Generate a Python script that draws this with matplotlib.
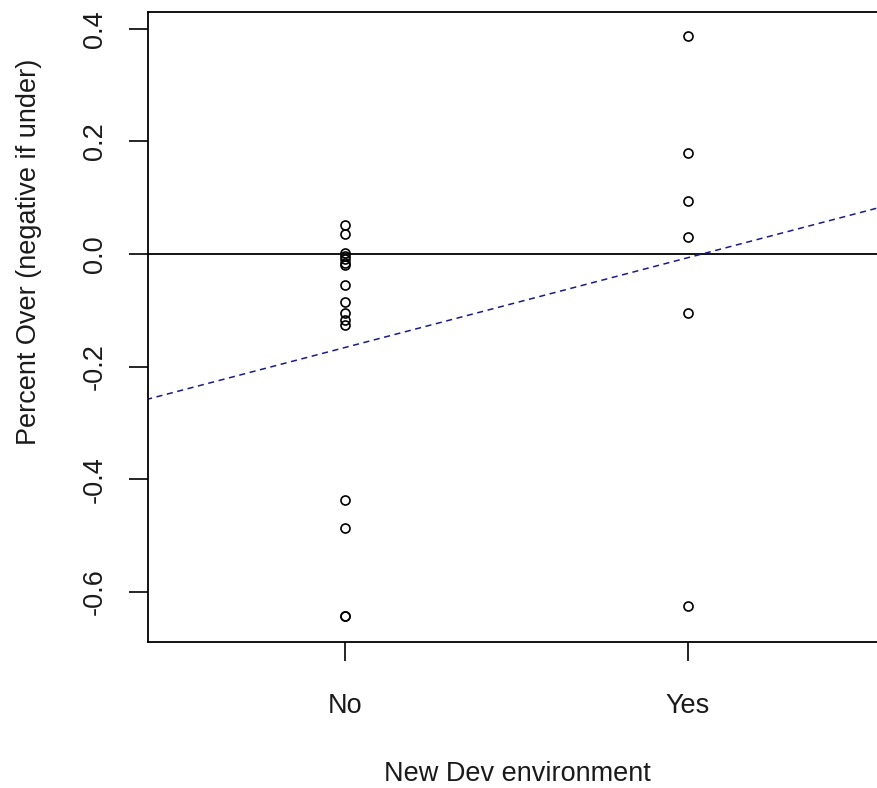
import numpy as np
import matplotlib
matplotlib.use("Agg")
import matplotlib.pyplot as plt

plt.rcParams["font.family"] = ["Liberation Sans", "DejaVu Sans"]

# group labels and observed values (percent over, negative if under)
groups = ["No", "Yes"]
no_vals = [0.051, 0.035, 0.002, -0.004, -0.009, -0.016, -0.019, -0.055,
           -0.085, -0.104, -0.117, -0.126, -0.437, -0.487, -0.642, -0.642]
yes_vals = [0.388, 0.179, 0.094, 0.030, -0.104, -0.625]
y_ticks = [-0.6, -0.4, -0.2, 0.0, 0.2, 0.4]

fig = plt.figure(figsize=(8.77, 7.88), dpi=100)
ax = fig.add_axes([148/877, 1-642/788, (887-148)/877, (642-12)/788])

x_all = np.array([1]*len(no_vals) + [2]*len(yes_vals), dtype=float)
y_all = np.array(no_vals + yes_vals)
ax.plot(x_all, y_all, linestyle="none", marker="o", markersize=6.5,
        markerfacecolor="none", markeredgecolor="black", markeredgewidth=1.2)

ax.axhline(0, color="black", lw=1.3)

# least squares line through the groups (coded 1/2)
slope, icpt = np.polyfit(x_all, y_all, 1)
xs = np.array([0.3, 2.7])
ax.plot(xs, icpt + slope*xs, color="#1a1a8c", lw=1.1, linestyle=(0, (4, 3)))

ax.set_xlim(0.426, 2.58)
ax.set_ylim(-0.689, 0.43)
ax.set_xticks([1, 2])
ax.set_xticklabels(groups)
ax.set_yticks(y_ticks)
ax.set_yticklabels([f"{t:.1f}" for t in y_ticks], rotation=90, va="center")
ax.tick_params(axis="both", length=14, width=1.2, labelsize=19.5,
               color="black", labelcolor="#1a1a1a")
ax.tick_params(axis="x", pad=23)
ax.tick_params(axis="y", pad=15)
for s in ax.spines.values():
    s.set_linewidth(1.3)

ax.set_xlabel("New Dev environment", fontsize=19.5, color="#1a1a1a", labelpad=30)
ax.set_ylabel("Percent Over (negative if under)", fontsize=19.5,
              color="#1a1a1a")
ax.yaxis.set_label_coords(-0.143, 0.62)

fig.savefig("out.png", dpi=100)
